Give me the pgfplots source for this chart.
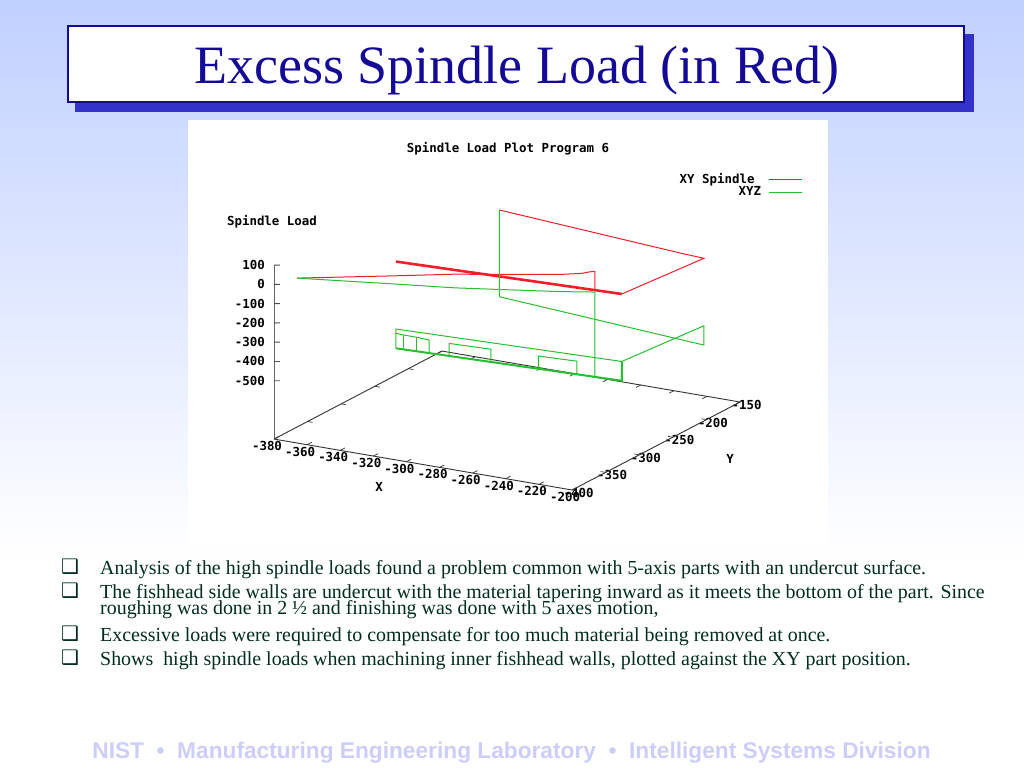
\documentclass[border=0pt]{standalone}
\usepackage{pgfplots}
\pgfplotsset{compat=1.18}
\usepackage{fontspec}
\setmainfont{Liberation Serif}
\newfontfamily\gp{DejaVu Sans Mono}
\newfontfamily\arialf{Liberation Sans}
\newfontfamily\sym{DejaVu Sans}
\definecolor{bgtop}{RGB}{192,208,255}
\definecolor{navy}{RGB}{20,10,150}
\definecolor{shad}{RGB}{51,51,204}
\definecolor{txt}{RGB}{0,45,30}
\definecolor{foot}{RGB}{205,205,250}
\definecolor{gred}{RGB}{240,30,40}
\definecolor{ggreen}{RGB}{40,190,50}
\newcommand{\gpf}{\gp\bfseries\fontsize{12.45}{13}\selectfont}
\begin{document}
\begin{tikzpicture}[x=1pt,y=-1pt]
\useasboundingbox (0,0) rectangle (1024,768);
\fill[white] (0,0) rectangle (1024,768);
\shade[top color=bgtop,bottom color=white,draw=none] (0,0) rectangle (1024,560);
\fill[shad] (75,34) rectangle (974,112);
\fill[white,draw=navy,line width=1.6pt] (68,26) rectangle (964,102);
\node[font=\fontsize{54}{60}\selectfont,text=navy,anchor=center] at (516.5,71) {Excess Spindle Load (in Red)};
\fill[white] (188,120) rectangle (828,546);
\begin{axis}[
  at={(274pt,-490pt)},anchor=south west,
  x={(1.656pt,-0.283pt)},y={(0.672pt,0.352pt)},z={(0pt,0.1928pt)},
  xmin=-380,xmax=-200,ymin=-400,ymax=-150,zmin=-802.5,zmax=100,
  clip=false,
  axis line style={draw=none},
  xtick={-380,-360,...,-200},
  ytick={-400,-350,...,-150},
  ztick={-500,-400,...,100},
  tick style={draw=none},
  /pgf/number format/assume math mode=true,
  tick label style={font=\gpf,inner sep=0pt},
  xticklabel style={anchor=center,xshift=-7pt,yshift=-7pt},
  yticklabel style={anchor=center,xshift=6.5pt,yshift=-3pt},
  zticklabel style={anchor=east,xshift=-9pt},
  xlabel={X},ylabel={Y},zlabel={Spindle Load},title={Spindle Load Plot Program 6},
  every axis x label/.style={at={(axis description cs:0.2253,0.0096)},anchor=center,font=\gpf},
  every axis y label/.style={at={(axis description cs:0.9785,0.0987)},anchor=center,font=\gpf},
  every axis z label/.style={at={(axis description cs:-0.0043,0.8567)},anchor=center,font=\gpf},
  every axis title/.style={at={(axis description cs:0.502,1.089)},anchor=center,font=\gpf},
  legend style={at={(axis description cs:1.1336,1.0193)},anchor=north east,draw=none,fill=none,font=\gpf,
    row sep=-2pt,inner sep=0pt},
  legend plot pos=right,
  legend cell align=right,
  legend image code/.code={\draw[#1] (0pt,0pt) -- (33pt,0pt);},
]
\addplot3[gred,line width=1pt] coordinates {
 (-366.6,-398.9,50)(-318,-371.3,83)(-289,-354.9,104)(-267.4,-342.6,112)(-237.4,-325.7,125)(-226.8,-319.6,135)(-222.7,-317.3,145)(-220.4,-316,148)(-220.4,-316,50)};
\addlegendentry{XY Spindle\rule{11.5pt}{0pt}}
\addplot3[ggreen,line width=1pt] coordinates {
 (-366.6,-398.9,50)(-318,-371.3,40)(-289,-354.9,33)(-267.4,-342.6,34)(-237.4,-325.7,36)(-226.8,-319.6,39)(-220.4,-316,41)(-220.4,-316,-400)};
\addlegendentry{XYZ\rule{5pt}{0pt}}
\addplot3[forget plot,black!80,line width=0.9pt] coordinates {(-380,-400,-802.5)(-200,-400,-802.5)(-200,-150,-802.5)(-380,-150,-802.5)(-380,-400,-802.5)};
\addplot3[forget plot,black!60,line width=1pt] coordinates {(-380,-400,-802.5)(-380,-400,100)};
\pgfplotsinvokeforeach{-380,-360,-340,-320,-300,-280,-260,-240,-220,-200}{
  \addplot3[forget plot,black!80,line width=0.7pt] coordinates {(#1,-400,-802.5)(#1,-393,-802.5)};
  \addplot3[forget plot,black!80,line width=0.7pt] coordinates {(#1,-150,-802.5)(#1,-157,-802.5)};
}
\pgfplotsinvokeforeach{-350,-300,-250,-200}{
  \addplot3[forget plot,black!80,line width=0.7pt] coordinates {(-380,#1,-802.5)(-377,#1,-802.5)};
  \addplot3[forget plot,black!80,line width=0.7pt] coordinates {(-200,#1,-802.5)(-203,#1,-802.5)};
}
\pgfplotsinvokeforeach{-500,-400,-300,-200,-100,0,100}{
  \addplot3[forget plot,black!70,line width=0.9pt] coordinates {(-380,-400,#1)(-377.3,-397.8,#1)};
}
\addplot3[forget plot,gred,line width=2.6pt] coordinates {(-335.9,-327.2,50)(-204.9,-314,50)};
\addplot3[forget plot,gred,line width=1pt] coordinates {
 (-204.9,-314,50)(-198.5,-207.5,50)(-212.9,-205.1,50)(-333.6,-178.9,50)};
\addplot3[forget plot,ggreen,line width=1pt] coordinates {
 (-333.6,-178.9,50)(-333.6,-178.9,-400)(-198.5,-207.5,-400)(-198.5,-207.5,-300)(-204.9,-314,-300)(-335.9,-327.2,-300)(-335.9,-327.2,-400)};
\addplot3[forget plot,ggreen,line width=2pt] coordinates {(-335.9,-327.2,-400)(-204.9,-314,-400)(-204.9,-314,-300)};
\addplot3[forget plot,ggreen,line width=1pt] coordinates {
 (-335.9,-327.2,-322)(-331.7,-326.8,-325)(-323.9,-326,-327)(-316.7,-325.3,-332)(-316.7,-325.3,-400)};
\addplot3[forget plot,ggreen,line width=1pt] coordinates {(-331.7,-326.8,-400)(-331.7,-326.8,-325)};
\addplot3[forget plot,ggreen,line width=1pt] coordinates {(-323.9,-326,-400)(-323.9,-326,-327)};
\addplot3[forget plot,ggreen,line width=1pt] coordinates {(-305.1,-324.1,-400)(-305.1,-324.1,-335)(-280.8,-321.6,-334)(-280.8,-321.6,-400)};
\addplot3[forget plot,ggreen,line width=1pt] coordinates {(-253.3,-318.9,-400)(-253.3,-318.9,-334)(-231,-316.6,-332)(-231,-316.6,-400)};
\end{axis}
\begin{scope}[every node/.style={anchor=base west,inner sep=0pt,text=txt,font=\fontsize{19.92}{20}\selectfont}]
\node at (100,574) {Analysis of the high spindle loads found a problem common with 5-axis parts with an undercut surface.};
\node at (100,598) {The fishhead side walls are undercut with the material tapering inward as it meets the bottom of the part. Since};
\node at (100,614) {roughing was done in 2 ½ and finishing was done with 5 axes motion,};
\node at (100,641) {Excessive loads were required to compensate for too much material being removed at once.};
\node at (100,665) {Shows\ \ high spindle loads when machining inner fishhead walls, plotted against the XY part position.};
\end{scope}
\begin{scope}[every node/.style={anchor=center,inner sep=0pt,text=txt,font=\sym\bfseries\fontsize{20}{20}\selectfont}]
\node at (70,567) {❑};
\node at (70,591) {❑};
\node at (70,634) {❑};
\node at (70,658) {❑};
\end{scope}
\node[anchor=center,text=foot,font=\arialf\bfseries\fontsize{22.7}{24}\selectfont] at (511.5,753) {NIST\ \ •\ \ Manufacturing Engineering Laboratory\ \ •\ \ Intelligent Systems Division};
\end{tikzpicture}
\end{document}
